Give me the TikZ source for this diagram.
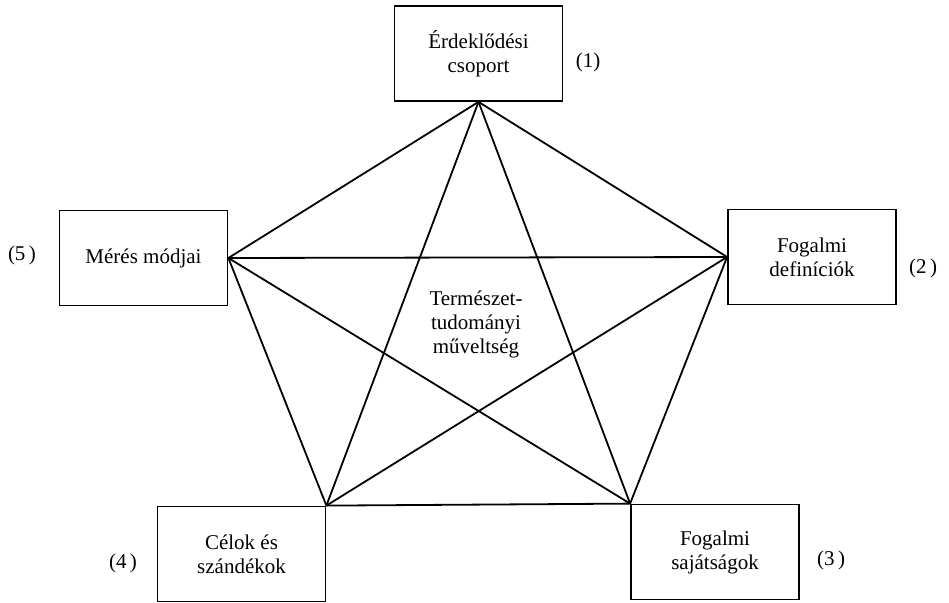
\documentclass[tikz,border=0pt]{standalone}
\usepackage{fontspec}
\setmainfont{Liberation Serif}
\begin{document}
\begin{tikzpicture}[x=1pt,y=-1pt,
  box/.style={draw, line width=1.8pt, minimum width=168pt, minimum height=95pt, align=center, inner sep=0pt, font=\fontsize{21}{24}\selectfont},
  lbl/.style={font=\fontsize{21}{24}\selectfont, inner sep=0pt},
  link/.style={line width=1.8pt}]
\useasboundingbox (0,0) rectangle (949,602);
\node[box] (b1) at (478.5,53.5) {Érdeklődési\\csoport};
\node[box] (b2) at (812,257) {Fogalmi\\definíciók};
\node[box] (b3) at (715,552) {Fogalmi\\sajátságok};
\node[box] (b4) at (241.5,554) {Célok és\\szándékok};
\node[box] (b5) at (143.5,258) {Mérés módjai};
\node[lbl, align=center] (mid) at (476,324) {Természet-\\tudományi\\műveltség};
\node[lbl] (l1) at (588,62) {(1)};
\node[lbl] (l2) at (923,268) {(2\,)};
\node[lbl] (l3) at (831,560) {(3\,)};
\node[lbl] (l4) at (123,563) {(4\,)};
\node[lbl] (l5) at (22,255) {(5\,)};
\draw[link] (b1.south) -- (b2.west);
\draw[link] (b2.west) -- (b3.north west);
\draw[link] (b3.north west) -- (b4.north east);
\draw[link] (b4.north east) -- (b5.east);
\draw[link] (b5.east) -- (b1.south);
\draw[link] (b1.south) -- (b3.north west);
\draw[link] (b1.south) -- (b4.north east);
\draw[link] (b2.west) -- (b4.north east);
\draw[link] (b2.west) -- (b5.east);
\draw[link] (b3.north west) -- (b5.east);
\end{tikzpicture}
\end{document}
